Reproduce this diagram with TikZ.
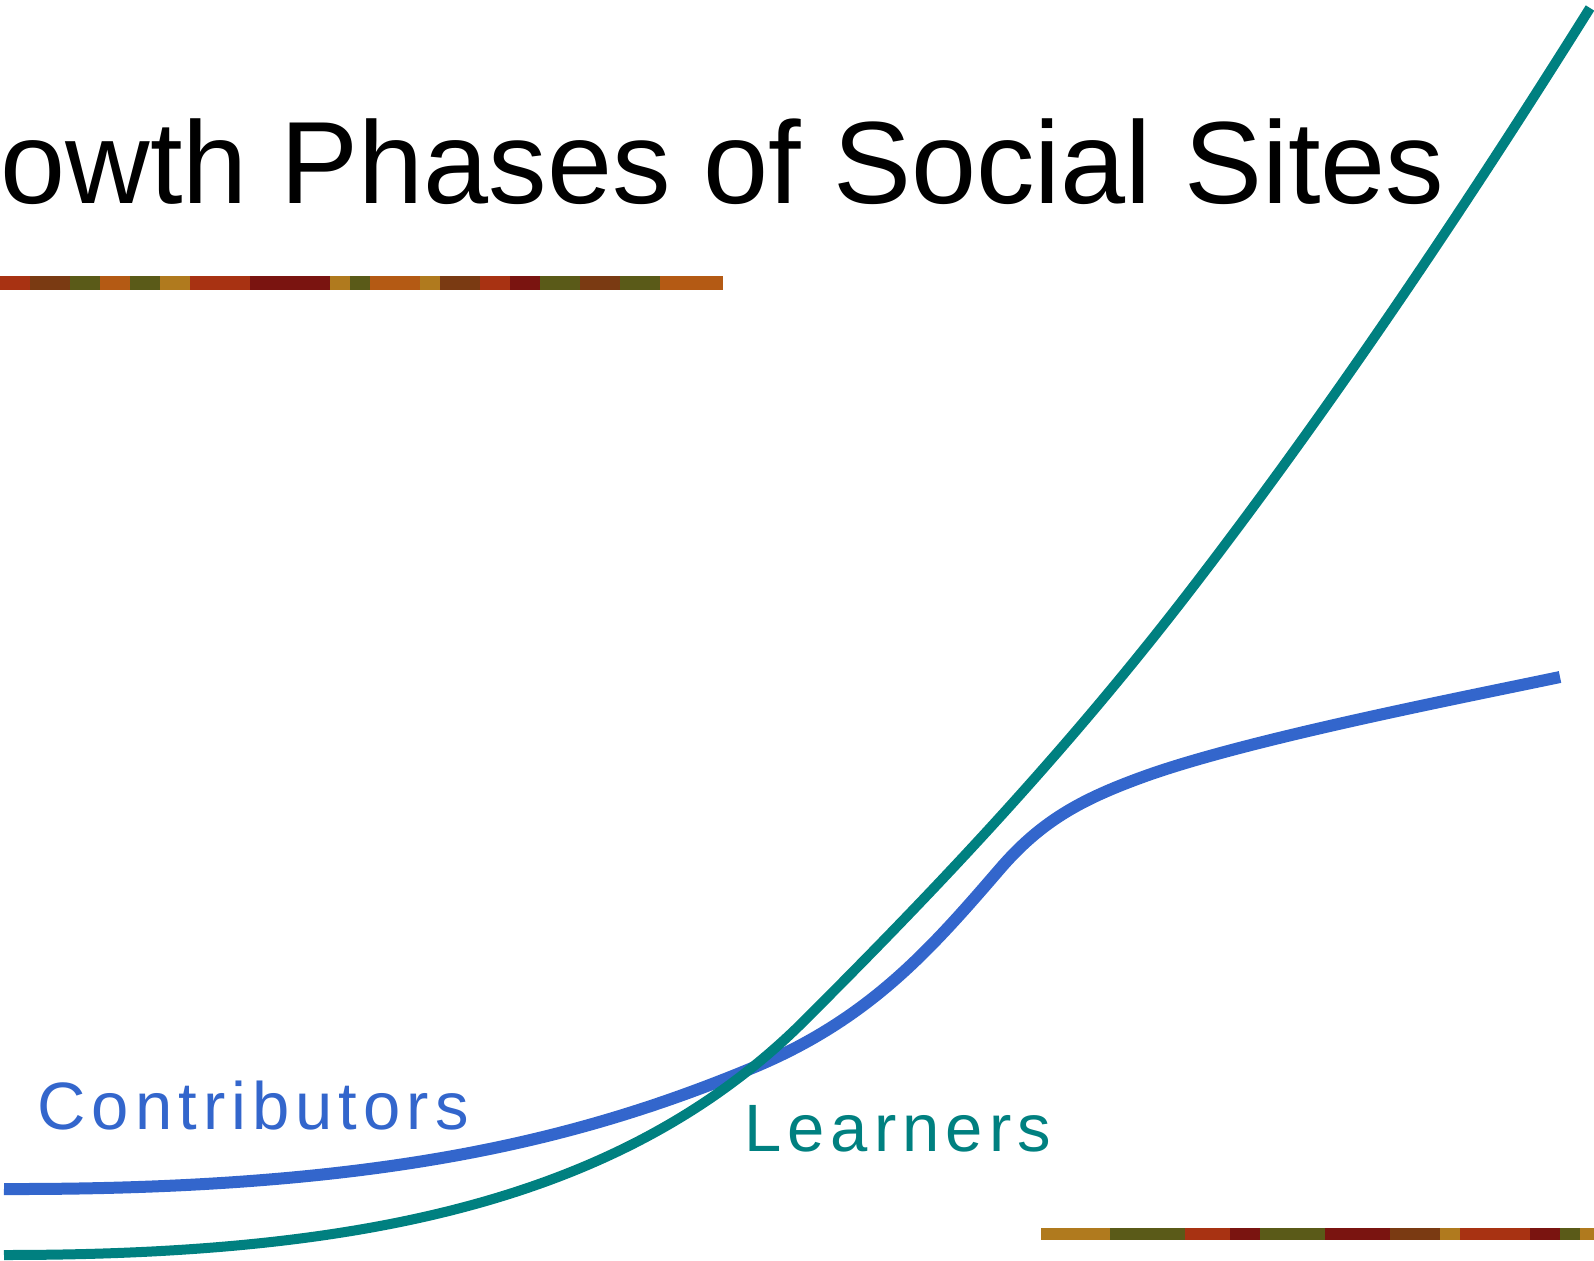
\documentclass[tikz,border=0pt]{standalone}
\usepackage{fontspec}
\setmainfont{Liberation Sans}
\usepackage{xcolor}
\definecolor{learnteal}{HTML}{008080}
\definecolor{contribblue}{HTML}{3366CC}
\definecolor{barA}{HTML}{B45A14}
\definecolor{barB}{HTML}{7A3A12}
\definecolor{barC}{HTML}{7A1410}
\definecolor{barD}{HTML}{5A5A18}
\definecolor{barE}{HTML}{B07A1E}
\definecolor{barF}{HTML}{A83212}

\begin{document}
\begin{tikzpicture}[x=0.5pt,y=-0.5pt,line join=round]
  \tikzstyle{heading}=[inner sep=0pt,font=\fontsize{58.5}{60}\selectfont]
  \tikzstyle{curvelabel}=[inner sep=0pt,font=\fontsize{33.5}{35}\selectfont\addfontfeature{LetterSpace=9}]
  \tikzstyle{growth}=[line width=6pt]

  \useasboundingbox (0,0) rectangle (1594,1261);
  \clip (0,0) rectangle (1594,1261);

  \node[heading, anchor=base east] (title) at (1445,204) {Growth Phases of Social Sites};

  % textured rules under the title and at the foot
  \foreach \xa/\xb/\c in {0/30/barF,30/70/barB,70/100/barD,100/130/barA,130/160/barD,
      160/190/barE,190/250/barF,250/330/barC,330/350/barE,350/370/barD,370/420/barA,
      420/440/barE,440/480/barB,480/510/barF,510/540/barC,540/580/barD,580/620/barB,
      620/660/barD,660/723/barA}
    \fill[\c] (\xa,276) rectangle (\xb,290);
  \foreach \xa/\xb/\c in {1041/1110/barE,1110/1185/barD,1185/1230/barF,1230/1260/barC,
      1260/1325/barD,1325/1390/barC,1390/1440/barB,1440/1460/barE,1460/1530/barF,
      1530/1560/barC,1560/1580/barD,1580/1594/barE}
    \fill[\c] (\xa,1228) rectangle (\xb,1240);

  % contributors curve, then learners curve on top
  \draw[growth, contribblue] (4,1189) .. controls (380,1190) and (580,1140) .. (757,1066)
    .. controls (870,1018) and (930,950) .. (999,870)
    .. controls (1040,822) and (1080,800) .. (1140,778)
    .. controls (1240,741) and (1450,700) .. (1560,677);
  \draw[growth, learnteal, line width=5pt] (4,1255) .. controls (350,1255) and (620,1205) .. (805,1020)
    .. controls (933,892) and (1061,758) .. (1189,592)
    .. controls (1323,418) and (1456,222) .. (1590,8);

  \node[curvelabel, contribblue, anchor=base west] (contrib) at (37,1129) {Contributors};
  \node[curvelabel, learnteal, anchor=base west] (learn) at (744,1151) {Learners};
\end{tikzpicture}
\end{document}
